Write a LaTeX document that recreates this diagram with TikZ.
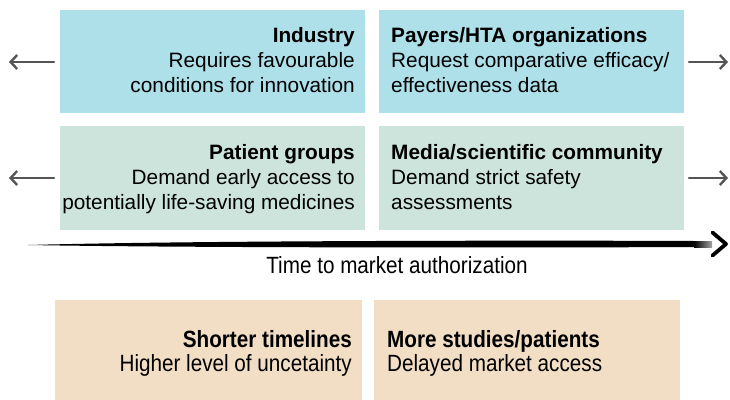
\documentclass[tikz,border=0pt]{standalone}
\usepackage{fontspec}
\setmainfont{Liberation Sans}
\newfontfamily\narrowfont[FakeStretch=0.88]{Liberation Sans}
\usetikzlibrary{arrows.meta}
\definecolor{boxblue}{HTML}{AEE0EA}
\definecolor{boxteal}{HTML}{CCE4DC}
\definecolor{boxpeach}{HTML}{F2DDC5}
\definecolor{arrowgray}{HTML}{555555}
\tikzset{
  panel/.style={fill=#1, draw=none, anchor=north west, inner sep=0pt},
  bodytext/.style={inner sep=0pt, font=\fontsize{20.8}{25}\selectfont},
  narrowtext/.style={inner sep=0pt, font=\narrowfont\fontsize{23.5}{24.5}\selectfont},
  sidearrow/.style={draw=arrowgray, line width=2.4pt, line cap=round,
    -{Straight Barb[length=6.5pt, width=14pt, line width=2.4pt]}},
}
\begin{document}
\begin{tikzpicture}[x=1pt, y=-1pt]
\useasboundingbox (0,0) rectangle (730,399);

% stakeholder panels
\node[panel=boxblue, minimum width=305pt, minimum height=103pt] (ind) at (60,10) {};
\node[panel=boxblue, minimum width=305pt, minimum height=103pt] (pay) at (379,10) {};
\node[panel=boxteal, minimum width=305pt, minimum height=104pt] (pat) at (60,126) {};
\node[panel=boxteal, minimum width=305pt, minimum height=104pt] (med) at (379,126) {};

% consequence panels
\node[panel=boxpeach, minimum width=307pt, minimum height=110pt] (short) at (55,300) {};
\node[panel=boxpeach, minimum width=306pt, minimum height=110pt] (more) at (374,300) {};

% panel texts
\node[bodytext, align=right, anchor=north east] (indt) at (355,27.5)
  {\textbf{Industry}\\Requires favourable\\conditions for innovation};
\node[bodytext, align=left, anchor=north west] (payt) at (391,27.5)
  {\textbf{Payers/HTA organizations}\\Request comparative efficacy/\\effectiveness data};
\node[bodytext, align=right, anchor=north east] (patt) at (355,144)
  {\textbf{Patient groups}\\Demand early access to\\potentially life-saving medicines};
\node[bodytext, align=left, anchor=north west] (medt) at (391,144)
  {\textbf{Media/scientific community}\\Demand strict safety\\assessments};
\node[narrowtext, align=right, anchor=north east] (shortt) at (352,330)
  {\textbf{Shorter timelines}\\Higher level of uncetainty};
\node[narrowtext, align=left, anchor=north west] (moret) at (387,330)
  {\textbf{More studies/patients}\\Delayed market access};

% time axis: tapered stroke that fades out just before the chevron
\coordinate (tstart) at (28,245);
\coordinate (tmid) at (694,244);
\coordinate (tend) at (712,244);
\fill[black] (tstart) .. controls (200,240.4) and (550,240.3) .. (694,241)
  -- (694,247) .. controls (550,247.7) and (200,248) .. (tstart) -- cycle;
\shade[left color=black, right color=black!35] (694,241) rectangle (712,247);
\draw[black, line width=3.8pt, line cap=round, line join=round]
  (712.5,232.5) -- (726,244) -- (712.5,255.5);
\node[narrowtext, anchor=center] (tlabel) at (397,265)
  {Time to market authorization};

% direction arrows beside the panels
\coordinate (la1) at (54,62);  \coordinate (lb1) at (9,62);
\coordinate (la2) at (54,178); \coordinate (lb2) at (9,178);
\coordinate (ra1) at (689,62);  \coordinate (rb1) at (728,62);
\coordinate (ra2) at (689,178); \coordinate (rb2) at (728,178);
\draw[sidearrow] (la1) -- (lb1);
\draw[sidearrow] (la2) -- (lb2);
\draw[sidearrow] (ra1) -- (rb1);
\draw[sidearrow] (ra2) -- (rb2);
\end{tikzpicture}
\end{document}
